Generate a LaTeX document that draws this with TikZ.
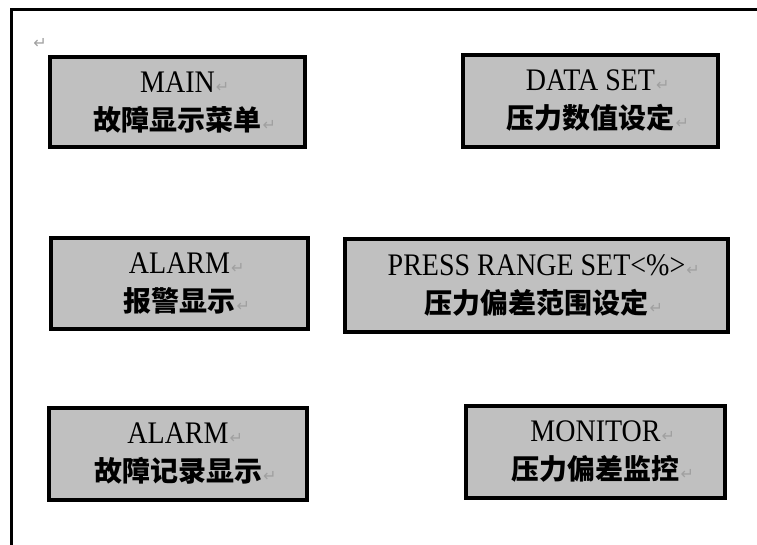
\documentclass[tikz,border=0pt]{standalone}
\usepackage{fontspec}
\setmainfont{Liberation Serif}
\newfontfamily\cjk{Noto Sans CJK SC}
\newfontfamily\symf{DejaVu Sans}
\definecolor{boxgray}{HTML}{C0C0C0}
\definecolor{markgray}{HTML}{A0A0A0}
\newcommand{\pmark}{\rlap{\hspace{1pt}\raisebox{0pt}{\symf\fontsize{16}{16}\selectfont\color{markgray}↵}}}
\newcommand{\lat}[1]{\scalebox{1}[1.12]{#1}}
\tikzset{
  panel/.style={draw=black, line width=3.2pt, fill=boxgray, align=center, inner sep=0pt,
    font=\fontsize{28}{38}\selectfont},
  frame/.style={line width=2.8pt, draw=black}
}
\begin{document}
\begin{tikzpicture}[x=1pt,y=-1pt]
\useasboundingbox (0,0) rectangle (757,545);
\coordinate (ftl) at (11.5,9.5);
\coordinate (ftr) at (757,9.5);
\coordinate (fbl) at (11.5,545);
\draw[frame] (ftr) -- (ftl) -- (fbl);
\node[inner sep=0pt] (topmark) at (40,43) {\symf\fontsize{16}{16}\selectfont\color{markgray}↵};

\node[panel, minimum width=255pt, minimum height=90pt] (main) at (177.5,102)
  {\lat{MAIN}\pmark\\ {\cjk\bfseries 故障显示菜单}\pmark};
\node[panel, minimum width=255pt, minimum height=92pt] (dataset) at (590.5,101)
  {\lat{DATA SET}\pmark\\ {\cjk\bfseries 压力数值设定}\pmark};
\node[panel, minimum width=257pt, minimum height=91pt] (alarm) at (179.5,283.5)
  {\lat{ALARM}\pmark\\ {\cjk\bfseries 报警显示}\pmark};
\node[panel, minimum width=383pt, minimum height=93pt] (press) at (536.5,285.5)
  {\lat{PRESS RANGE SET\textless\%\textgreater}\pmark\\ {\cjk\bfseries 压力偏差范围设定}\pmark};
\node[panel, minimum width=258pt, minimum height=92pt] (alarmlog) at (178,454)
  {\lat{ALARM}\pmark\\ {\cjk\bfseries 故障记录显示}\pmark};
\node[panel, minimum width=259pt, minimum height=92pt] (monitor) at (595.5,452)
  {\lat{MONITOR}\pmark\\ {\cjk\bfseries 压力偏差监控}\pmark};
\end{tikzpicture}
\end{document}
